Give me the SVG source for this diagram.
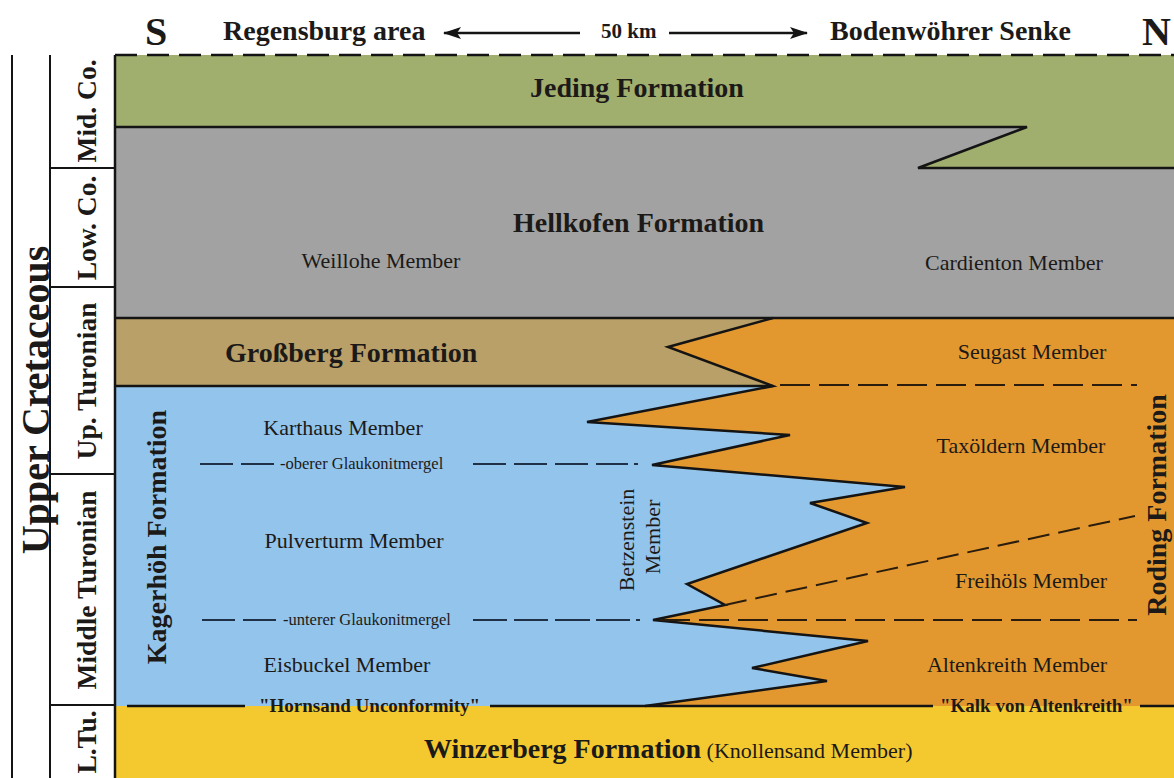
<svg xmlns="http://www.w3.org/2000/svg" width="1174" height="778" viewBox="0 0 1174 778">
<style>
text{font-family:"Liberation Serif","Times New Roman",serif;fill:#1c1a18}
.b{font-weight:bold}
.hd{font-size:28px;font-weight:bold}
.big{font-size:40px;font-weight:bold}
.fm{font-size:28px;font-weight:bold}
.mb{font-size:22px;text-anchor:middle}
.st{font-size:27.5px;font-weight:bold;text-anchor:middle}
.gl{font-size:16.5px}
.q{font-size:19px;font-weight:bold}
.ln{stroke:#141414;stroke-width:2.5;fill:none;stroke-linejoin:miter}
.frame{stroke:#141414;stroke-width:2;fill:none}
.dd{stroke:#2b1d0e;stroke-width:2;fill:none;stroke-dasharray:30 9}
.dg{stroke:#2b1d0e;stroke-width:2;fill:none;stroke-dasharray:22 9}
.gk{stroke:#1f3047;stroke-width:2;fill:none}
</style>
<defs>
<marker id="ah" viewBox="0 0 18 12" refX="17" refY="6" markerWidth="18" markerHeight="12" markerUnits="userSpaceOnUse" orient="auto">
<path d="M0,0 L18,6 L0,12 L4,6 Z" fill="#141414"/>
</marker>
</defs>
<rect width="1174" height="778" fill="#ffffff"/>

<g id="header">
<text class="big" x="145" y="45">S</text>
<text class="hd" x="223" y="40">Regensburg area</text>
<text class="b" x="601" y="38" font-size="21">50 km</text>
<text class="hd" x="830" y="40">Bodenwöhrer Senke</text>
<text class="big" x="1142" y="45">N</text>
</g>

<g id="winzerberg">
<rect x="115" y="706" width="1059" height="72" fill="#f4c930"/>
<text x="424" y="758"><tspan class="fm">Winzerberg Formation</tspan><tspan font-size="22"> (Knollensand Member)</tspan></text>
</g>

<g id="roding">
<rect x="115" y="318" width="1059" height="388" fill="#e3982f"/>
<text class="mb" x="1032" y="359">Seugast Member</text>
<text class="mb" x="1021" y="453">Taxöldern Member</text>
<text class="mb" x="1031" y="588">Freihöls Member</text>
<text class="mb" x="1017" y="672">Altenkreith Member</text>
<text class="fm" text-anchor="middle" transform="translate(1166,505) rotate(-90)">Roding Formation</text>
</g>

<g id="kagerhoeh">
<polygon points="115,386 773,386 587,422 790,435 652,465 905,487 810,503 867,523 687,584 725,605 653,620 868,641 752,668 827,681 645,706 115,706" fill="#93c4ec"/>
<text class="mb" x="343" y="435">Karthaus Member</text>
<text class="mb" x="354" y="548">Pulverturm Member</text>
<text class="mb" x="347" y="672">Eisbuckel Member</text>
<text class="fm" text-anchor="middle" transform="translate(166,537) rotate(-90)">Kagerhöh Formation</text>
<text class="mb" transform="translate(634,540) rotate(-90)" x="0" y="0">Betzenstein</text>
<text class="mb" transform="translate(660,537) rotate(-90)" x="0" y="0">Member</text>
</g>

<g id="grossberg">
<polygon points="115,318 773,318 668,347 773,386 115,386" fill="#b9a068"/>
<text class="fm" x="225" y="362">Großberg Formation</text>
</g>

<g id="hellkofen">
<rect x="115" y="127" width="1059" height="191" fill="#a2a2a2"/>
<text class="fm" x="513" y="232">Hellkofen Formation</text>
<text class="mb" x="381" y="268">Weillohe Member</text>
<text class="mb" x="1014" y="270">Cardienton Member</text>
</g>

<g id="jeding">
<polygon points="115,55 1174,55 1174,168 918,168 1027,127 115,127" fill="#a0ae6e"/>
<text class="fm" x="530" y="97">Jeding Formation</text>
</g>

<g id="stratigraphy">
<text class="b" font-size="40" text-anchor="middle" transform="translate(49,400) rotate(-90)">Upper Cretaceous</text>
<text class="st" transform="translate(96,111) rotate(-90)">Mid. Co.</text>
<text class="st" transform="translate(96,228) rotate(-90)">Low. Co.</text>
<text class="st" transform="translate(96,381) rotate(-90)">Up. Turonian</text>
<text class="st" transform="translate(96,590) rotate(-90)">Middle Turonian</text>
<text class="st" transform="translate(96,742) rotate(-90)">L.Tu.</text>
</g>

<g id="glaukonit">
<path class="gk" d="M200,464H233M241,464H274M473,464H506M514,464H547M555,464H588M596,464H628M634,464H638"/>
<text class="gl" x="280" y="469">-oberer Glaukonitmergel</text>
<path class="gk" d="M202,620H235M243,620H276M473,620H507M514,620H548M555,620H590M596,620H630M636,620H640"/>
<text class="gl" x="283" y="625">-unterer Glaukonitmergel</text>
</g>

<g id="unconformities">
<text class="q" x="259" y="712">"Hornsand Unconformity"</text>
<text class="q" x="940" y="712">"Kalk von Altenkreith"</text>
</g>

<g id="connectors">
<line x1="580" y1="33" x2="444" y2="33" stroke="#141414" stroke-width="2.5" marker-end="url(#ah)"/>
<line x1="669" y1="33" x2="807" y2="33" stroke="#141414" stroke-width="2.5" marker-end="url(#ah)"/>
<line x1="115" y1="55" x2="1174" y2="55" stroke="#141414" stroke-width="2.5" stroke-dasharray="22 10"/>
<line class="frame" x1="12" y1="55" x2="12" y2="778"/>
<line class="frame" x1="50" y1="55" x2="50" y2="778"/>
<path class="frame" d="M50,168H115M50,287H115M50,474H115M50,705H115"/>
<line class="ln" x1="115" y1="55" x2="115" y2="778"/>
<polyline class="ln" points="115,127 1027,127 918,168 1174,168"/>
<line class="ln" x1="115" y1="318" x2="1174" y2="318"/>
<line class="ln" x1="115" y1="386" x2="773" y2="386"/>
<polyline class="ln" points="773,318 668,347 773,386 587,422 790,435 652,465 905,487 810,503 867,523 687,584 725,605 653,620 868,641 752,668 827,681 645,706"/>
<line class="dd" x1="780" y1="385" x2="1137" y2="385"/>
<line class="dg" x1="725" y1="605" x2="1135" y2="516"/>
<line class="dd" x1="660" y1="620" x2="1137" y2="620"/>
<path class="ln" d="M127,706H245M490,706H933M1140,706H1174"/>
</g>
</svg>
